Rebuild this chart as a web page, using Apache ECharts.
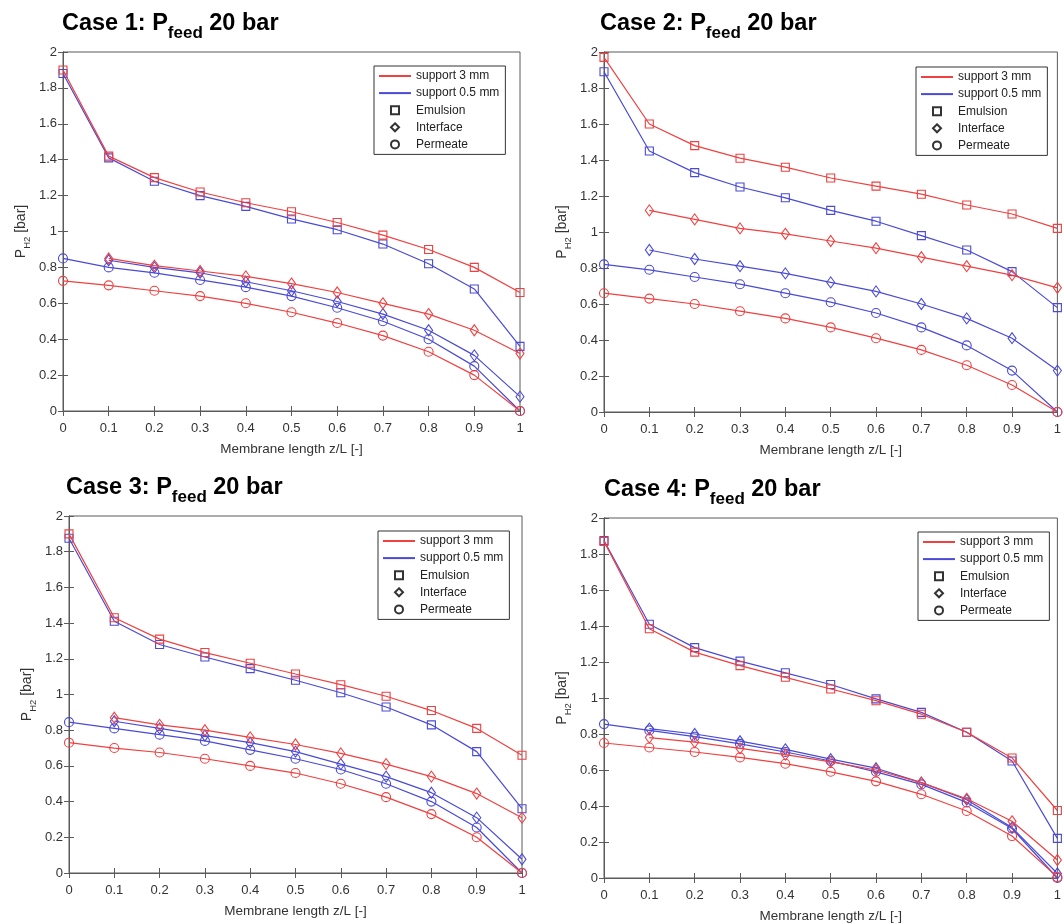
<!DOCTYPE html>
<html>
<head>
<meta charset="utf-8">
<script src="https://cdn.jsdelivr.net/npm/echarts@6/dist/echarts.min.js"></script>
<style>
  html, body { margin: 0; padding: 0; background: #fff; }
  #chart { width: 1064px; height: 924px; }
</style>
</head>
<body>
<div id="chart"></div>
<script>
// membrane position z/L
var zL = [0, 0.1, 0.2, 0.3, 0.4, 0.5, 0.6, 0.7, 0.8, 0.9, 1];

// Case 1
var c1Emul3  = [1.90, 1.42, 1.30, 1.22, 1.16, 1.11, 1.05, 0.98, 0.90, 0.80, 0.66];
var c1Intf3  = [null, 0.85, 0.81, 0.78, 0.75, 0.71, 0.66, 0.60, 0.54, 0.45, 0.32];
var c1Perm3  = [0.725, 0.70, 0.67, 0.64, 0.60, 0.55, 0.49, 0.42, 0.33, 0.20, 0];
var c1Emul05 = [1.88, 1.41, 1.28, 1.20, 1.14, 1.07, 1.01, 0.93, 0.82, 0.68, 0.36];
var c1Intf05 = [null, 0.84, 0.80, 0.77, 0.72, 0.67, 0.61, 0.54, 0.45, 0.31, 0.08];
var c1Perm05 = [0.85, 0.80, 0.77, 0.73, 0.69, 0.64, 0.575, 0.50, 0.40, 0.25, 0];

// Case 2
var c2Emul3  = [1.97, 1.60, 1.48, 1.41, 1.36, 1.30, 1.255, 1.21, 1.15, 1.10, 1.02];
var c2Intf3  = [null, 1.12, 1.07, 1.02, 0.99, 0.95, 0.91, 0.86, 0.81, 0.76, 0.69];
var c2Perm3  = [0.66, 0.63, 0.60, 0.56, 0.52, 0.47, 0.41, 0.345, 0.26, 0.15, 0];
var c2Emul05 = [1.89, 1.45, 1.33, 1.25, 1.19, 1.12, 1.06, 0.98, 0.90, 0.78, 0.58];
var c2Intf05 = [null, 0.90, 0.85, 0.81, 0.77, 0.72, 0.67, 0.60, 0.52, 0.41, 0.23];
var c2Perm05 = [0.82, 0.79, 0.75, 0.71, 0.66, 0.61, 0.55, 0.47, 0.37, 0.23, 0];

// Case 3
var c3Emul3  = [1.90, 1.43, 1.31, 1.235, 1.175, 1.115, 1.055, 0.99, 0.91, 0.81, 0.66];
var c3Intf3  = [null, 0.87, 0.83, 0.80, 0.76, 0.72, 0.67, 0.61, 0.54, 0.445, 0.31];
var c3Perm3  = [0.73, 0.70, 0.675, 0.64, 0.60, 0.56, 0.50, 0.425, 0.33, 0.20, 0];
var c3Emul05 = [1.875, 1.41, 1.28, 1.21, 1.145, 1.08, 1.01, 0.93, 0.83, 0.68, 0.36];
var c3Intf05 = [null, 0.85, 0.81, 0.77, 0.73, 0.68, 0.61, 0.54, 0.45, 0.31, 0.077];
var c3Perm05 = [0.845, 0.81, 0.775, 0.74, 0.69, 0.64, 0.58, 0.50, 0.40, 0.255, 0];

// Case 4
var c4Emul3  = [1.87, 1.385, 1.255, 1.18, 1.115, 1.05, 0.985, 0.91, 0.81, 0.667, 0.375];
var c4Intf3  = [null, 0.78, 0.755, 0.72, 0.685, 0.645, 0.60, 0.53, 0.44, 0.315, 0.10];
var c4Perm3  = [0.75, 0.725, 0.70, 0.67, 0.635, 0.59, 0.537, 0.465, 0.372, 0.233, 0.005];
var c4Emul05 = [1.875, 1.41, 1.28, 1.205, 1.14, 1.075, 0.995, 0.92, 0.81, 0.65, 0.22];
var c4Intf05 = [null, 0.83, 0.80, 0.76, 0.715, 0.66, 0.61, 0.53, 0.435, 0.28, 0.025];
var c4Perm05 = [0.855, 0.82, 0.785, 0.745, 0.70, 0.65, 0.59, 0.52, 0.42, 0.275, 0];

var caseNames = ['Case 1', 'Case 2', 'Case 3', 'Case 4'];
var legendNames = ['support 3 mm', 'support 0.5 mm', 'Emulsion', 'Interface', 'Permeate'];

var cases = [
  [c1Emul3, c1Intf3, c1Perm3, c1Emul05, c1Intf05, c1Perm05],
  [c2Emul3, c2Intf3, c2Perm3, c2Emul05, c2Intf05, c2Perm05],
  [c3Emul3, c3Intf3, c3Perm3, c3Emul05, c3Intf05, c3Perm05],
  [c4Emul3, c4Intf3, c4Perm3, c4Emul05, c4Intf05, c4Perm05]
];

var red = '#f04040';
var blue = '#4a4ad6';
var axisCol = '#5a5a5a';
var textCol = '#333';
var sans = '"Liberation Sans", Arial, sans-serif';
var clear = 'rgba(0,0,0,0)';

// panel boxes (plot areas)
var boxes = [
  { left: 63, top: 52, width: 457, height: 359 },
  { left: 604, top: 52, width: 456, height: 360 },
  { left: 69, top: 516, width: 453, height: 357 },
  { left: 604, top: 518, width: 460, height: 360 }
];
var titlePos = [[62, 12], [600, 12], [66, 476], [604, 478]];
var legendPos = [[374, 66], [916, 67], [378, 531], [918, 532]];

var markers = [
  { symbol: 'rect', size: 8 },
  { symbol: 'diamond', size: [8, 11] },
  { symbol: 'circle', size: 9 }
];

function pairs(arr) {
  return zL.map(function (x, i) { return [x, arr[i]]; });
}

var option = {
  animation: false,
  backgroundColor: '#fff',
  title: [],
  legend: [],
  grid: [],
  xAxis: [],
  yAxis: [],
  series: []
};

boxes.forEach(function (b, k) {
  option.grid.push({
    left: b.left, top: b.top, width: b.width, height: b.height,
    show: true, borderColor: axisCol, borderWidth: 1, backgroundColor: '#fff'
  });

  option.title.push({
    left: titlePos[k][0], top: titlePos[k][1], padding: 0,
    text: '{m|' + caseNames[k] + ': P}{s|feed}{m| 20 bar}',
    textStyle: {
      rich: {
        m: { fontSize: 23.5, fontWeight: 'bold', fontFamily: sans, color: '#000', padding: [0, 0, 6, 0], verticalAlign: 'bottom' },
        s: { fontSize: 17, fontWeight: 'bold', fontFamily: sans, color: '#000', verticalAlign: 'bottom' }
      }
    }
  });

  // bottom x axis with labels
  option.xAxis.push({
    type: 'value', gridIndex: k, min: 0, max: 1, interval: 0.1,
    name: 'Membrane length z/L [-]', nameLocation: 'middle', nameGap: 31,
    nameTextStyle: { fontSize: 13.5, color: textCol, fontFamily: sans },
    axisLine: { lineStyle: { color: axisCol } },
    axisTick: { inside: true, length: 5, lineStyle: { color: axisCol } },
    axisLabel: { fontSize: 13, color: textCol, fontFamily: sans, margin: 11 },
    splitLine: { show: false }
  });
  // top mirror axis (ticks only)
  option.xAxis.push({
    type: 'value', gridIndex: k, min: 0, max: 1, interval: 0.1, position: 'top',
    axisLine: { lineStyle: { color: axisCol } },
    axisTick: { inside: true, length: 5, lineStyle: { color: axisCol } },
    axisLabel: { show: false }, splitLine: { show: false }
  });

  option.yAxis.push({
    type: 'value', gridIndex: k, min: 0, max: 2, interval: 0.2,
    name: '{m|P}{s|H2}{m| [bar]}', nameLocation: 'middle', nameGap: 31,
    nameTextStyle: {
      rich: {
        m: { fontSize: 14, color: textCol, fontFamily: sans, padding: [0, 0, 4, 0], verticalAlign: 'bottom' },
        s: { fontSize: 9.5, color: textCol, fontFamily: sans, verticalAlign: 'bottom' }
      }
    },
    axisLine: { show: true, lineStyle: { color: axisCol } },
    axisTick: { show: true, inside: true, length: 5, lineStyle: { color: axisCol } },
    axisLabel: { fontSize: 13, color: textCol, fontFamily: sans, margin: 6 },
    splitLine: { show: false }
  });
  option.yAxis.push({
    type: 'value', gridIndex: k, min: 0, max: 2, interval: 0.2, position: 'right',
    axisLine: { show: true, lineStyle: { color: axisCol } },
    axisTick: { show: true, inside: true, length: 5, lineStyle: { color: axisCol } },
    axisLabel: { show: false }, splitLine: { show: false }
  });

  cases[k].forEach(function (arr, j) {
    var col = j < 3 ? red : blue;
    var m = markers[j % 3];
    option.series.push({
      type: 'line',
      name: (j < 3 ? 'c3_' : 'c05_') + k + '_' + j,
      xAxisIndex: k * 2, yAxisIndex: k * 2,
      data: pairs(arr),
      symbol: m.symbol, symbolSize: m.size, showAllSymbol: true,
      lineStyle: { color: col, width: 1.2 },
      itemStyle: { color: clear, borderColor: col, borderWidth: 1.1 },
      emphasis: { disabled: true },
      z: j < 3 ? 3 : 2
    });
  });

  option.legend.push({
    left: legendPos[k][0], top: legendPos[k][1],
    orient: 'vertical', data: legendNames,
    itemWidth: 32, itemHeight: 10, itemGap: 5.1,
    padding: [4, 6, 4, 4],
    borderColor: '#333', borderWidth: 1, backgroundColor: '#fff',
    selectedMode: false,
    textStyle: { fontSize: 12, color: '#222', fontFamily: sans }
  });
});

// legend-only series
option.series.push(
  { type: 'line', name: 'support 3 mm', data: [], symbol: 'none', xAxisIndex: 0, yAxisIndex: 0,
    lineStyle: { color: red, width: 1.2 }, itemStyle: { color: clear, borderColor: clear, borderWidth: 0 } },
  { type: 'line', name: 'support 0.5 mm', data: [], symbol: 'none', xAxisIndex: 0, yAxisIndex: 0,
    lineStyle: { color: blue, width: 1.2 }, itemStyle: { color: clear, borderColor: clear, borderWidth: 0 } }
);
['Emulsion', 'Interface', 'Permeate'].forEach(function (nm, j) {
  option.series.push({
    type: 'line', name: nm, data: [], xAxisIndex: 0, yAxisIndex: 0,
    symbol: markers[j].symbol,
    lineStyle: { opacity: 0 },
    itemStyle: { color: clear, borderColor: '#333', borderWidth: 0.9 }
  });
});

var chart = echarts.init(document.getElementById('chart'), null, { renderer: 'canvas' });
chart.setOption(option);
</script>
</body>
</html>
